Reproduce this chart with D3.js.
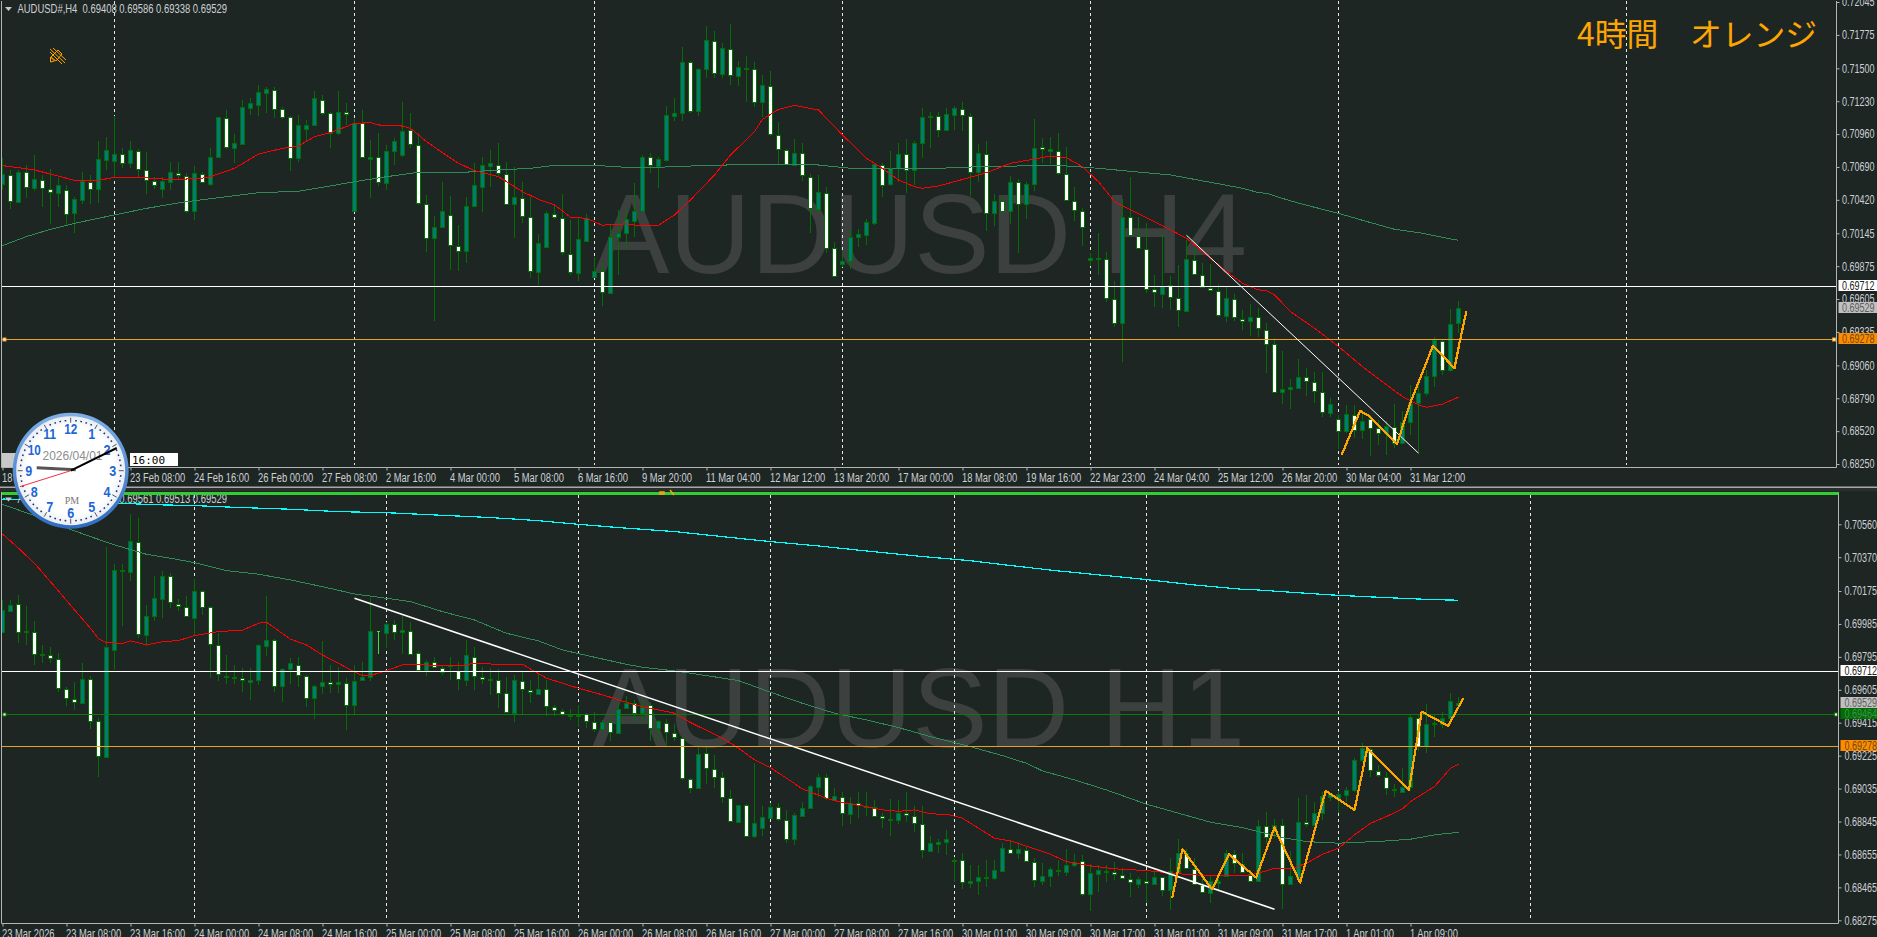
<!DOCTYPE html>
<html><head><meta charset="utf-8">
<script src="https://cdn.jsdelivr.net/npm/d3@7"></script>
<style>html,body{margin:0;padding:0;background:#1e2624;overflow:hidden}svg{display:block}</style>
</head><body>
<script>
// ---------- H4 pane, prices in points (1e-5) ----------
const h4Open=[70550,70624,70405,70651,70520,70583,70512,70479,70501,70309,70419,70569,70506,70747,70742,70794,70725,70824,70665,70575,70512,70569,70643,70616,70331,70635,70550,70775,71095,70848,70879,71177,71202,71300,71325,71169,71098,70761,71005,71035,71240,71130,70972,71144,70329,71054,70758,70775,70561,70824,70791,70994,70873,70386,70104,70200,70296,70041,69997,70372,70528,70701,70709,70632,70383,70435,70282,69830,70036,70304,70274,69975,69822,70085,69789,69839,69658,70118,70145,70249,70331,70775,70701,70747,71111,71130,71549,71152,71492,71727,71456,71661,71440,71494,71497,71221,71355,70955,70829,70706,70808,70610,70342,70479,70027,69891,69915,70118,70134,70233,70709,70547,70684,70799,70665,70884,71098,71111,70991,71119,71169,71111,70651,70799,70315,70411,70326,70569,70386,70547,70857,70824,70824,70632,70413,70331,69923,69934,69934,69609,69412,70282,70123,70016,69685,69650,69721,69614,69510,69926,69806,69696,69674,69469,69606,69444,69422,69461,69351,69236,68845,68870,68878,68968,68924,68845,68673,68618,68517,68656,68530,68618,68547,68503,68558,68426,68599,68755,68837,68976,69264,69023,69408];
const h4Close=[70632,70411,70651,70523,70588,70515,70482,70539,70301,70424,70575,70506,70753,70827,70794,70720,70827,70671,70583,70539,70572,70646,70621,70331,70638,70564,70775,71098,70851,70884,71180,71213,71303,71328,71169,71098,70761,71032,71032,71254,71130,70972,71144,71122,71054,70769,70775,70567,70824,70901,70988,70879,70391,70104,70200,70331,70049,70000,70372,70539,70703,70725,70638,70383,70441,70287,69833,70063,70309,70276,69989,69825,70096,70268,69839,69663,70118,70145,70260,70331,70775,70703,70753,71114,71130,71549,71150,71492,71730,71459,71664,71442,71508,71500,71223,71360,70958,70835,70714,70808,70624,70350,70482,70022,69795,69915,70118,70137,70235,70712,70542,70679,70799,70665,70884,71098,71109,70994,71122,71171,71117,70649,70802,70315,70413,70331,70569,70386,70547,70843,70838,70835,70638,70419,70337,70200,69940,69943,69617,69412,70282,70131,70022,69691,69663,69715,69620,69516,69932,69811,69707,69680,69475,69611,69455,69425,69461,69365,69236,68840,68864,68881,68968,68930,68848,68675,68741,68517,68659,68530,68607,68549,68503,68563,68421,68599,68749,68837,68976,69269,69023,69398,69529];
const h4High=[70761,70665,70665,70706,70788,70624,70671,70597,70542,70446,70651,70624,70903,70939,71109,70843,70903,70835,70810,70610,70610,70728,70728,70638,70701,70646,70843,71103,71158,70961,71240,71254,71363,71344,71344,71180,71109,71117,71076,71314,71281,71144,71314,71218,71081,71158,70911,70966,70870,70925,71221,71130,70966,70460,70287,70567,70452,70214,70446,70720,70775,70829,70884,70734,70692,70569,70446,70140,70331,70386,70468,70255,70282,70304,69954,69899,70214,70337,70342,70561,70788,70807,70775,71191,71254,71672,71560,71500,71848,71806,71711,71864,71560,71601,71555,71445,71478,71059,70835,70920,70884,70632,70624,70523,70077,70008,70178,70178,70260,70720,70720,70824,70884,70917,70906,71177,71144,71144,71177,71191,71223,71130,70876,70903,70468,70446,70619,70591,70569,71081,70925,70939,70966,70851,70523,70350,69986,70145,69995,69754,70424,70610,70282,70233,69803,70145,69795,69885,70090,70027,69899,69891,69729,69702,69647,69516,69565,69529,69412,69283,69179,68946,69111,69037,69009,69009,68790,68653,68736,68736,68694,68653,68612,68607,68741,68689,68900,68941,69023,69297,69269,69524,69589];
const h4Low=[70501,70342,70391,70432,70495,70359,70222,70364,70214,70145,70386,70386,70391,70665,70610,70679,70679,70610,70468,70509,70432,70501,70583,70309,70255,70556,70534,70761,70840,70720,70870,71117,71109,71130,71089,71081,70660,70734,70898,71026,71117,70843,70953,71035,70323,70761,70432,70534,70501,70706,70775,70843,70378,69995,69428,70186,69844,69839,69904,70364,70323,70528,70610,70378,70104,70227,69776,69721,70022,70260,69967,69803,69757,70077,69776,69551,69652,69803,70022,70118,70323,70638,70520,70734,71070,71070,71136,71111,71418,71418,71418,71363,71355,71226,71185,71103,70944,70714,70709,70701,70578,70145,70309,69981,69789,69871,69850,70030,70049,70214,70441,70534,70569,70479,70542,70761,70843,70939,70985,70994,70988,70452,70569,70167,70205,70323,70222,69986,70260,70495,70720,70714,70624,70413,70249,70041,69877,69803,69584,69379,69091,70123,70016,69658,69543,69529,69516,69373,69502,69803,69702,69674,69455,69420,69428,69351,69302,69291,69001,68837,68744,68703,68867,68812,68755,68634,68640,68372,68503,68462,68454,68317,68407,68325,68380,68421,68489,68339,68812,68886,68982,69004,69324];
const h4RedIdx=[0,2,4,6,8,9,12,14,17,20,23,25,26,29,32,35,37,39,41,44,46,47,50,51,53,55,57,59,62,65,67,69,71,73,75,76,78,80,82,84,86,89,91,94,95,97,99,102,103,105,108,110,112,114,115,117,119,123,126,129,131,133,135,137,139,141,145,148,151,153,155,157,158,159,161,164,167,170,173,175,177,178,180,181,182];
const h4RedVal=[70701,70684,70665,70632,70597,70580,70580,70605,70605,70591,70591,70599,70610,70679,70796,70843,70862,70939,70972,71048,71054,71035,71026,71007,70898,70807,70720,70660,70610,70487,70424,70378,70277,70268,70211,70219,70222,70205,70211,70296,70419,70624,70788,70980,71081,71163,71196,71158,71089,70953,70761,70679,70583,70528,70515,70534,70569,70643,70720,70755,70780,70766,70692,70569,70405,70337,70208,70104,69940,69830,69735,69680,69674,69639,69502,69365,69215,69050,68900,68804,68736,68716,68741,68771,68799];
const h4GreenIdx=[0,3,6,9,14,18,23,28,32,37,41,44,48,52,57,62,66,69,74,78,80,84,88,93,98,102,106,111,117,122,127,133,137,141,146,151,155,157,158,161,164,167,171,174,177,181,182];
const h4GreenVal=[70044,70118,70178,70227,70296,70350,70405,70446,70479,70490,70534,70569,70610,70646,70643,70665,70679,70703,70703,70687,70684,70692,70703,70709,70712,70706,70679,70673,70679,70692,70698,70698,70679,70654,70624,70564,70515,70479,70474,70411,70359,70309,70233,70178,70151,70099,70088];
const h4ZigIdx=[167.4,169.7,170.8,174.3,176,178.8,181.5,182.2,183];
const h4ZigVal=[68325,68686,68645,68413,68755,69220,69037,69269,69507];
const h4TrendIdx=[148,177];
const h4TrendVal=[70129,68339];
const h4GridIdx=[14,44,74,105,136,167,203];
const h4TickLabels=["18 Feb 2026","20 Feb 00:00","23 Feb 08:00","24 Feb 16:00","26 Feb 00:00","27 Feb 08:00","2 Mar 16:00","4 Mar 00:00","5 Mar 08:00","6 Mar 16:00","9 Mar 20:00","11 Mar 04:00","12 Mar 12:00","13 Mar 20:00","17 Mar 00:00","18 Mar 08:00","19 Mar 16:00","22 Mar 23:00","24 Mar 04:00","25 Mar 12:00","26 Mar 20:00","30 Mar 04:00","31 Mar 12:00"];
const h4PriceTicks=[0.72045,0.71775,0.71500,0.71230,0.70960,0.70690,0.70420,0.70145,0.69875,0.69605,0.69335,0.69060,0.68790,0.68520,0.68250];

// ---------- H1 pane ----------
const h1Open=[69941,70060,70099,69941,69941,69806,69808,69785,69612,69554,69529,69666,69424,69220,69837,70299,70287,70460,69924,70033,70131,70260,70102,70085,70022,70177,70081,69866,69687,69672,69675,69652,69660,69860,69891,69626,69726,69749,69687,69556,69626,69652,69641,69647,69520,69660,69677,69941,69935,69983,69941,69947,69816,69718,69768,69731,69745,69714,69664,69797,69681,69660,69664,69585,69474,69658,69606,69583,69612,69508,69485,69452,69456,69464,69422,69377,69420,69354,69499,69527,69470,69518,69383,69416,69358,69329,69093,69037,69243,69149,69104,68983,68845,68939,68764,68810,68868,68927,68851,68743,68879,68922,69047,69100,68970,68987,68891,68954,68931,68926,68874,68862,68852,68893,68879,68833,68677,68718,68724,68620,68625,68493,68499,68520,68518,68560,68689,68662,68683,68614,68501,68533,68568,68556,68593,68618,68426,68543,68562,68556,68539,68516,68487,68504,68487,68522,68451,68556,68662,68572,68481,68433,68489,68531,68656,68600,68537,68504,68822,68806,68825,68483,68527,68843,68827,68895,68989,68976,68999,69024,69199,69264,69139,69102,69035,69018,69045,69445,69281,69408,69410,69441,69518];
const h1Close=[70064,70095,69941,69945,69810,69810,69787,69614,69556,69535,69666,69426,69222,69850,70295,70289,70464,69925,70033,70133,70260,70112,70087,70029,70174,70083,69870,69695,69679,69677,69662,69660,69862,69891,69626,69724,69758,69691,69556,69626,69652,69639,69649,69518,69658,69677,69945,69943,69983,69941,69949,69810,69720,69768,69735,69706,69749,69666,69804,69685,69666,69668,69585,69476,69660,69610,69591,69612,69512,69487,69464,69460,69462,69426,69377,69422,69362,69495,69527,69472,69508,69383,69426,69362,69331,69095,69037,69237,69152,69104,68985,68849,68939,68764,68835,68870,68929,68858,68743,68883,68922,69050,69100,68979,68991,68893,68954,68939,68935,68877,68866,68856,68893,68883,68837,68681,68720,68726,68743,68625,68495,68500,68522,68526,68564,68691,68662,68687,68618,68506,68533,68572,68558,68593,68614,68427,68547,68566,68552,68541,68518,68495,68512,68489,68527,68451,68560,68662,68575,68485,68437,68499,68499,68662,68604,68556,68504,68822,68756,68827,68483,68529,68845,68831,68897,68995,69002,69002,69026,69199,69268,69141,69112,69037,69026,69047,69449,69281,69406,69412,69441,69539,69529];
const h1High=[70124,70124,70152,70089,70002,69864,69851,69816,69624,69652,69762,69685,69441,70429,70331,70331,70620,70595,70095,70262,70291,70277,70129,70149,70245,70181,70089,69931,69806,69749,69729,69733,69868,70147,69899,69733,69787,69797,69691,69633,69887,69749,69739,69672,69749,69768,70133,69947,69999,70008,70037,69999,69829,69777,69797,69749,69797,69768,69893,69850,69739,69729,69725,69681,69691,69710,69662,69700,69662,69518,69495,69495,69518,69470,69479,69431,69431,69537,69570,69547,69547,69537,69431,69437,69406,69335,69095,69277,69281,69226,69129,69027,68941,68945,69181,68935,68951,68951,68912,68893,68956,69056,69118,69118,69041,69018,68989,69018,69018,68970,68893,68976,68970,69014,68937,68937,68762,68745,68797,68643,68666,68595,68595,68624,68624,68720,68733,68726,68706,68637,68604,68585,68624,68687,68656,68652,68602,68595,68595,68610,68579,68547,68527,68556,68566,68527,68637,68743,68687,68633,68527,68537,68527,68681,68681,68662,68566,68854,68899,68860,68860,68672,68979,68999,68960,69014,69008,69022,69043,69214,69297,69268,69172,69133,69060,69152,69460,69460,69524,69460,69476,69585,69561];
const h1Low=[69937,70052,69874,69864,69749,69762,69758,69595,69514,69489,69526,69379,69099,69220,69720,69975,70233,69906,69860,70003,70022,70079,70060,70025,69922,70037,69675,69656,69639,69639,69591,69547,69633,69800,69591,69533,69639,69624,69508,69437,69579,69585,69585,69374,69464,69660,69658,69812,69845,69891,69814,69806,69714,69685,69729,69691,69662,69604,69626,69604,69639,69576,69502,69470,69422,69464,69527,69579,69451,69451,69456,69431,69393,69383,69364,69368,69310,69352,69495,69412,69418,69310,69310,69287,69310,69085,69008,69033,69060,69041,68951,68841,68841,68758,68749,68764,68864,68849,68720,68710,68874,68918,68989,68970,68964,68822,68829,68864,68879,68870,68806,68764,68833,68845,68787,68637,68675,68662,68649,68495,68456,68464,68422,68470,68508,68551,68656,68629,68614,68470,68479,68470,68533,68533,68585,68418,68326,68437,68495,68508,68514,68412,68464,68374,68483,68418,68335,68552,68572,68479,68431,68377,68437,68527,68547,68547,68499,68499,68720,68749,68341,68479,68522,68816,68822,68854,68964,68893,68960,69018,69191,69099,69104,68999,68989,69008,69027,69252,69243,69335,69383,69431,69513];
const h1RedIdx=[0,2,4,7,9,11,12,13,15,16,18,20,22,24,27,30,32,33,36,38,40,43,45,46,48,50,52,55,57,59,62,65,68,72,75,78,79,80,82,84,86,90,92,94,96,98,100,103,105,108,110,112,114,116,118,120,122,124,126,129,131,133,136,139,143,146,149,153,156,158,159,161,163,165,167,169,171,173,175,176,179,180,181,182];
const h1RedVal=[70504,70422,70335,70175,70066,69960,69899,69877,69872,69887,69864,69883,69889,69918,69941,69949,69989,69995,69897,69864,69806,69733,69687,69687,69716,69749,69749,69745,69743,69758,69752,69752,69672,69614,69576,69533,69518,69508,69489,69470,69416,69326,69268,69201,69156,69095,69033,68979,68954,68931,68912,68904,68912,68889,68887,68864,68806,68749,68733,68687,68656,68614,68589,68572,68562,68547,68537,68531,68537,68560,68576,68572,68604,68656,68691,68768,68835,68874,68918,68960,69047,69099,69152,69176];
const h1GreenIdx=[0,4,7,11,14,18,21,24,28,32,36,40,44,48,51,55,59,63,67,70,74,78,80,84,88,92,96,100,104,108,112,116,121,125,128,130,134,138,143,147,151,155,157,160,163,167,170,173,176,179,182];
const h1GreenVal=[70675,70610,70556,70489,70441,70387,70364,70339,70293,70272,70239,70200,70158,70133,70114,70056,70008,69931,69887,69835,69793,69752,69735,69714,69687,69658,69591,69527,69470,69431,69387,69335,69277,69225,69181,69137,69085,69027,68945,68893,68841,68810,68787,68752,68729,68720,68726,68733,68743,68768,68783];
const h1CyanIdx=[0,20,24,29,36,42,48,54,61,67,72,77,80,84,90,96,102,108,115,121,126,132,138,143,149,155,157,161,167,173,179,182];
const h1CyanVal=[70706,70672,70668,70658,70647,70633,70627,70614,70599,70581,70560,70541,70531,70518,70489,70460,70435,70406,70374,70350,70322,70291,70264,70241,70210,70185,70181,70168,70150,70137,70125,70122];
const h1ZigIdx=[146.2,147.5,151.2,153.3,156.7,159,162.2,165.4,169,170.6,175.8,177.4,180.7,182.6];
const h1ZigVal=[68402,68685,68454,68656,68522,68810,68493,69022,68912,69268,69026,69479,69397,69556];
const h1TrendIdx=[44,159];
const h1TrendVal=[70133,68339];
const h1GridIdx=[24,48,72,96,119,143,167,191];
const h1TickLabels=["23 Mar 2026","23 Mar 08:00","23 Mar 16:00","24 Mar 00:00","24 Mar 08:00","24 Mar 16:00","25 Mar 00:00","25 Mar 08:00","25 Mar 16:00","26 Mar 00:00","26 Mar 08:00","26 Mar 16:00","27 Mar 00:00","27 Mar 08:00","27 Mar 16:00","30 Mar 01:00","30 Mar 09:00","30 Mar 17:00","31 Mar 01:00","31 Mar 09:00","31 Mar 17:00","1 Apr 01:00","1 Apr 09:00"];
const h1PriceTicks=[0.70560,0.70370,0.70175,0.69985,0.69795,0.69605,0.69415,0.69225,0.69035,0.68845,0.68655,0.68465,0.68275];

const W=1877,H=937;
const BG="#1e2624",UP_FILL="#007c74",BORDER="#007000",WATER="#3c403f",AXIS="#b4b4b4",TXT="#ccd0d4";
const svg=d3.select("body").append("svg").attr("width",W).attr("height",H).attr("viewBox",`0 0 ${W} ${H}`);
svg.append("rect").attr("width",W).attr("height",H).attr("fill",BG);
const defs=svg.append("defs");
const FONT='"Liberation Sans",Arial,sans-serif';
const LABEL_SIZE=12, X_SQUEEZE=0.78, PRICE_WIDTH=32.5;

const x=d3.scaleLinear().domain([0,182]).range([2,1458]);

function squeeze(sel,k){sel.each(function(){const l=this.getComputedTextLength();d3.select(this).attr("textLength",l*k).attr("lengthAdjust","spacingAndGlyphs");});}

function pane(cfg){
  const y=d3.scaleLinear().domain(cfg.domain).range(cfg.yRange);
  const p=v=>y(v/1e5);
  const clipId="clip"+cfg.id;
  defs.append("clipPath").attr("id",clipId).append("rect").attr("x",cfg.left).attr("y",cfg.top).attr("width",cfg.right-cfg.left).attr("height",cfg.bottom-cfg.top);
  const g=svg.append("g").attr("clip-path",`url(#${clipId})`);

  // watermark
  g.append("text").text(cfg.water).attr("x",cfg.waterX).attr("y",cfg.waterY).attr("font-family",FONT).attr("font-size",113).attr("fill",WATER);
  if(cfg.big) g.append("text").text(cfg.big).attr("x",1577).attr("y",46).attr("font-family",'"Noto Sans CJK JP"').attr("font-size",32).attr("textLength",240).attr("lengthAdjust","spacingAndGlyphs").attr("fill","#ffa500");

  // vertical grid
  g.selectAll("line.g").data(cfg.grid).join("line").attr("x1",d=>x(d)+.5).attr("x2",d=>x(d)+.5).attr("y1",cfg.top).attr("y2",cfg.bottom-2)
    .attr("stroke","#e6e6e6").attr("stroke-dasharray","3,3").attr("stroke-width",1);

  // candles
  const idx=d3.range(cfg.open.length);
  const c=g.append("g").attr("shape-rendering","crispEdges");
  c.selectAll("rect.w").data(idx).join("rect").attr("x",i=>x(i)).attr("width",1)
    .attr("y",i=>Math.round(p(cfg.high[i]))).attr("height",i=>Math.max(1,Math.round(p(cfg.low[i]))-Math.round(p(cfg.high[i]))))
    .attr("fill",i=>cfg.lime&&cfg.lime.includes(i)?"#32e632":BORDER);
  const bt=i=>Math.round(p(Math.max(cfg.open[i],cfg.close[i])));
  const bb=i=>Math.round(p(Math.min(cfg.open[i],cfg.close[i])));
  const bodies=idx.filter(i=>!(cfg.lime&&cfg.lime.includes(i)));
  c.selectAll("rect.o").data(bodies).join("rect").attr("x",i=>x(i)-2).attr("width",5)
    .attr("y",bt).attr("height",i=>Math.max(2,bb(i)-bt(i)+1)).attr("fill",BORDER);
  c.selectAll("rect.f").data(bodies.filter(i=>bb(i)-bt(i)>=2)).join("rect").attr("x",i=>x(i)-1).attr("width",3)
    .attr("y",i=>bt(i)+1).attr("height",i=>bb(i)-bt(i)-1).attr("fill",i=>cfg.close[i]>=cfg.open[i]?UP_FILL:"#ffffff");
  if(cfg.lime) c.selectAll("rect.l").data(cfg.lime).join("rect").attr("x",i=>x(i)-1).attr("width",3)
    .attr("y",i=>Math.round(p(cfg.close[i]))).attr("height",1).attr("fill","#32e632");

  // moving averages & objects
  const line=(I,V)=>d3.line().x((d,k)=>x(I[k])+.5).y((d,k)=>p(V[k]))(V);
  (cfg.lines||[]).forEach(l=>g.append("path").attr("d",line(l.idx,l.val)).attr("fill","none").attr("stroke",l.color).attr("stroke-width",l.w).attr("shape-rendering","crispEdges"));

  // horizontal levels
  cfg.levels.forEach(l=>g.append("line").attr("x1",cfg.left).attr("x2",cfg.right).attr("y1",Math.round(y(l.v))+.5).attr("y2",Math.round(y(l.v))+.5).attr("stroke",l.color).attr("stroke-width",l.w));

  // trend & zigzag
  g.append("path").attr("d",line(cfg.trend[0],cfg.trend[1])).attr("fill","none").attr("stroke","#fff").attr("stroke-width",cfg.trendW);
  g.append("path").attr("d",line(cfg.zig[0],cfg.zig[1])).attr("fill","none").attr("stroke","#ffa500").attr("stroke-width",2.2).attr("stroke-linejoin","round").attr("shape-rendering","crispEdges");

  // handle squares
  cfg.levels.filter(l=>l.handle).forEach(l=>{
    [4.5,cfg.right-2.5].forEach(hx=>svg.append("rect").attr("x",hx-1.5).attr("y",Math.round(y(l.v))-1).attr("width",3).attr("height",3).attr("fill","#fff").attr("stroke",l.color).attr("stroke-width",1));
  });

  // frame
  svg.append("path").attr("d",`M${cfg.left-.5},${cfg.frameTop}V${cfg.bottom+.5}H${cfg.right}V${cfg.frameTop}`).attr("fill","none").attr("stroke",AXIS).attr("stroke-width",1);

  // right axis
  const ax=svg.append("g").attr("transform",`translate(${cfg.right},0)`)
    .call(d3.axisRight(y).tickValues(cfg.priceTicks).tickFormat(d3.format(".5f")).tickSize(3).tickPadding(cfg.labelPad));
  ax.select(".domain").remove();
  ax.selectAll("line").attr("stroke",AXIS);
  ax.selectAll("text").attr("font-family",FONT).attr("font-size",LABEL_SIZE).attr("fill",TXT).attr("textLength",PRICE_WIDTH).attr("lengthAdjust","spacingAndGlyphs");

  // bottom axis
  const tickIdx=cfg.tickLabels.map((d,i)=>i*8);
  const bx=svg.append("g").attr("transform",`translate(.5,${cfg.bottom+.5})`)
    .call(d3.axisBottom(x).tickValues(tickIdx).tickFormat((d,i)=>cfg.tickLabels[i]).tickSize(3).tickPadding(3));
  bx.select(".domain").remove();
  bx.selectAll("line").attr("stroke",AXIS);
  bx.selectAll("text").attr("text-anchor","start").attr("dx",-1).attr("font-family",FONT).attr("font-size",LABEL_SIZE).attr("fill",TXT).call(squeeze,X_SQUEEZE);

  // price tags
  cfg.tags.forEach(t=>{
    const ty=y(t.v);
    svg.append("rect").attr("x",cfg.right+2).attr("y",Math.round(ty)-6).attr("width",W-cfg.right-2).attr("height",11).attr("fill",t.bg);
    svg.append("text").text(d3.format(".5f")(t.v)).attr("x",cfg.right+3+cfg.labelPad).attr("y",Math.round(ty)+3.5).attr("font-family",FONT).attr("font-size",LABEL_SIZE).attr("fill",t.fg).attr("textLength",PRICE_WIDTH).attr("lengthAdjust","spacingAndGlyphs");
  });

  // title
  svg.append("path").attr("d",`M5,${cfg.titleY-2}h7l-3.5,4z`).attr("fill","#c8c8c8");
  svg.append("text").text(cfg.title).attr("x",17.5).attr("y",cfg.titleY+3.5).attr("font-family",FONT).attr("font-size",LABEL_SIZE).attr("fill",TXT).attr("textLength",209.5).attr("lengthAdjust","spacingAndGlyphs").attr("xml:space","preserve");
  return {x,y};
}

pane({id:"a",domain:[0.72045,0.6825],yRange:[2,464],left:2,right:1836.5,labelPad:2.5,top:1,frameTop:1,bottom:467,
  open:h4Open,close:h4Close,high:h4High,low:h4Low,grid:h4GridIdx,water:"AUDUSD H4",waterX:594,waterY:273,big:"4時間　オレンジ",
  lines:[{idx:h4GreenIdx,val:h4GreenVal,color:"#2e8b57",w:1},{idx:h4RedIdx,val:h4RedVal,color:"#ff0000",w:1}],
  levels:[{v:0.69712,color:"#ffffff",w:1},{v:0.69278,color:"#e8a020",w:1,handle:true}],
  trend:[h4TrendIdx,h4TrendVal],trendW:1,zig:[h4ZigIdx,h4ZigVal],
  priceTicks:h4PriceTicks,tickLabels:h4TickLabels,
  tags:[{v:0.69712,bg:"#ffffff",fg:"#222"},{v:0.69529,bg:"#c0c0c0",fg:"#606060"},{v:0.69278,bg:"#ff8c00",fg:"#6a4a10"}],
  title:"AUDUSD#,H4  0.69408 0.69586 0.69338 0.69529",titleY:9});

// separator between the panes
svg.append("rect").attr("x",0).attr("y",486.5).attr("width",W).attr("height",1.5).attr("fill","#a8a8a8");
svg.append("rect").attr("x",0).attr("y",488).attr("width",W).attr("height",3).attr("fill","#2a2f2d");

pane({id:"b",domain:[0.7056,0.68275],yRange:[524.3,920.3],left:2,right:1838.5,labelPad:3,top:495,frameTop:492,bottom:923,
  open:h1Open,close:h1Close,high:h1High,low:h1Low,grid:h1GridIdx,water:"AUDUSD H1",waterX:592,waterY:746.5,lime:[47],
  lines:[{idx:h1CyanIdx,val:h1CyanVal,color:"#00ffff",w:1.2},{idx:h1GreenIdx,val:h1GreenVal,color:"#2e8b57",w:1},{idx:h1RedIdx,val:h1RedVal,color:"#ff0000",w:1}],
  levels:[{v:0.69712,color:"#ffffff",w:1},{v:0.69464,color:"#0a7a0a",w:1,handle:true},{v:0.69278,color:"#e8a020",w:1}],
  trend:[h1TrendIdx,h1TrendVal],trendW:1.5,zig:[h1ZigIdx,h1ZigVal],
  priceTicks:h1PriceTicks,tickLabels:h1TickLabels,
  tags:[{v:0.69712,bg:"#ffffff",fg:"#222"},{v:0.69529,bg:"#c0c0c0",fg:"#606060"},{v:0.69464,bg:"#006e00",fg:"#3f8f55"},{v:0.69278,bg:"#ff8c00",fg:"#6a4a10"}],
  title:"AUDUSD#,H1  0.69518 0.69561 0.69513 0.69529",titleY:499.5});
svg.append("rect").attr("x",2).attr("y",492).attr("width",1836.5).attr("height",3).attr("fill","#32cd32");

// top-left chart toolbar icon
const icon=svg.append("g").attr("stroke","#ffa500").attr("fill","none").attr("stroke-width",1);
icon.append("path").attr("d","M50,49L65,63M53,48L66,60M50,52L62,64");
icon.append("path").attr("d","M51,57L58,50L62,54L56,61z");
icon.append("path").attr("d","M50.5,62v-5l4,4z");
svg.append("g").attr("stroke","#ffa500").attr("fill","none").attr("stroke-width",1.5).call(s=>{s.append("rect").attr("x",660).attr("y",492).attr("width",4).attr("height",2);s.append("path").attr("d","M670,490l4,5");});

// broker widgets under the clock
svg.append("rect").attr("x",2).attr("y",453).attr("width",40).attr("height",14).attr("fill","#c8c8c8");
svg.append("rect").attr("x",130).attr("y",453).attr("width",48).attr("height",13).attr("fill","#fff");
svg.append("text").text("16:00").attr("x",132).attr("y",464).attr("font-family",'"DejaVu Sans Mono"').attr("font-size",11).attr("fill","#000");

// desktop clock overlay
const cx=70.7,cy=470.7,R=58;
const rim=defs.append("linearGradient").attr("id","rim").attr("x1",0).attr("y1",0).attr("x2",0).attr("y2",1);
rim.append("stop").attr("offset",0).attr("stop-color","#7fb0e6");
rim.append("stop").attr("offset",1).attr("stop-color","#2f6cc0");
const rg=defs.append("radialGradient").attr("id","face");
rg.append("stop").attr("offset","0.8").attr("stop-color","#ffffff");
rg.append("stop").attr("offset","1").attr("stop-color","#e8edf3");
const cl=svg.append("g");
cl.append("circle").attr("cx",cx).attr("cy",cy).attr("r",R).attr("fill","url(#rim)");
cl.append("circle").attr("cx",cx).attr("cy",cy).attr("r",R-3.5).attr("fill","url(#face)");
d3.range(60).forEach(m=>{
  const a=m*Math.PI/30;
  const r1=m%5==0?53:51,r2=m%5==0?48:49.5;
  cl.append("line").attr("x1",cx+r1*Math.sin(a)).attr("y1",cy-r1*Math.cos(a)).attr("x2",cx+r2*Math.sin(a)).attr("y2",cy-r2*Math.cos(a))
    .attr("stroke",m%5==0?"#555":"#1c2f6a").attr("stroke-width",m%5==0?1:1.6);
});
d3.range(1,13).forEach(h=>{
  const a=h*Math.PI/6,r=42;
  cl.append("text").text(h).attr("x",cx+r*Math.sin(a)).attr("y",cy-r*Math.cos(a)+5).attr("text-anchor","middle").attr("font-family",FONT).attr("font-weight","bold").attr("font-size",14).attr("fill","#1e66d6").attr("textLength",h>9?13:7).attr("lengthAdjust","spacingAndGlyphs");
});
cl.append("text").text("2026/04/01").attr("x",72.5).attr("y",460).attr("text-anchor","middle").attr("font-family",FONT).attr("font-size",12).attr("fill","#8c8c8c");
cl.append("text").text("PM").attr("x",72).attr("y",504).attr("text-anchor","middle").attr("font-family",'"Liberation Serif",serif').attr("font-size",10).attr("fill","#777");
cl.append("line").attr("x1",cx+5).attr("y1",cy-1).attr("x2",36.7).attr("y2",467.7).attr("stroke","#555").attr("stroke-width",3);
cl.append("line").attr("x1",cx).attr("y1",cy).attr("x2",116.7).attr("y2",448).attr("stroke","#000").attr("stroke-width",2);
cl.append("line").attr("x1",cx).attr("y1",cy).attr("x2",20).attr("y2",486.7).attr("stroke","#f03048").attr("stroke-width",1);
</script>
</body></html>
